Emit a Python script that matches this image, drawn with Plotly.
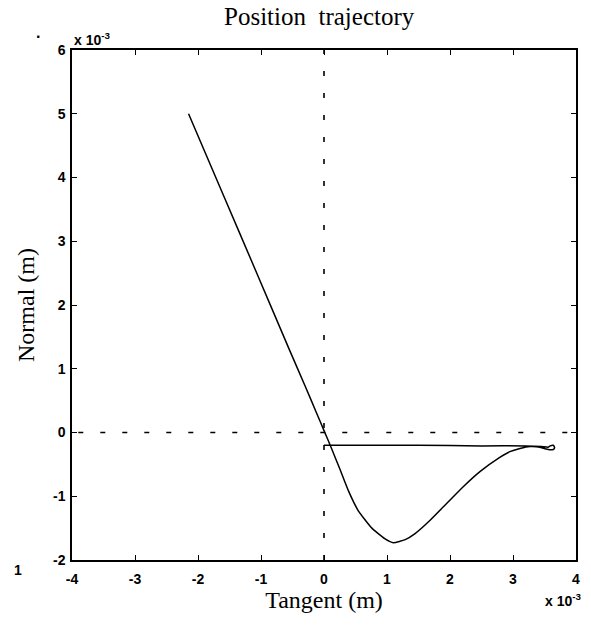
import plotly.graph_objects as go

# Trajectory (units of 1e-3 m)
tangent = [-2.15, -1.60, -1.05, -0.55, -0.30, -0.12, 0.00, 0.12, 0.25, 0.39, 0.54, 0.76, 0.97, 1.10,
           1.29, 1.44, 1.68, 1.95, 2.21, 2.48, 2.79, 2.95, 3.11, 3.27, 3.43, 3.53, 3.58,
           3.63, 3.66, 3.64, 3.59, 3.56, 3.45, 3.20, 2.50, 1.50, 0.80, 0.00]
normal = [5.00, 3.73, 2.46, 1.30, 0.73, 0.31, 0.03, -0.25, -0.57, -0.92, -1.22, -1.50, -1.67, -1.73,
          -1.68, -1.59, -1.38, -1.11, -0.85, -0.61, -0.39, -0.30, -0.25, -0.22, -0.23, -0.26, -0.27,
          -0.27, -0.24, -0.20, -0.21, -0.23, -0.22, -0.21, -0.21, -0.20, -0.20, -0.20]

x_ticks = [-4, -3, -2, -1, 0, 1, 2, 3, 4]
y_ticks = [-2, -1, 0, 1, 2, 3, 4, 5, 6]

fig = go.Figure()
fig.add_trace(go.Scatter(x=tangent, y=normal, mode="lines",
                         line=dict(color="black", width=1.5, shape="spline", smoothing=0.5),
                         showlegend=False, hoverinfo="skip"))

# dashed reference lines
fig.add_shape(type="line", x0=-3.9, x1=4, y0=0, y1=0, xref="x", yref="y",
              line=dict(color="black", width=1.6, dash="5px,17px"))
fig.add_shape(type="line", x0=0, x1=0, y0=-2, y1=6, xref="x", yref="y",
              line=dict(color="black", width=1.6, dash="5px,17px"))

tickfont = dict(family="Liberation Sans, Arial", size=14, color="black")
axis_common = dict(showgrid=False, zeroline=False, showline=True, linecolor="black",
                   linewidth=1.5, mirror="ticks", ticks="inside", ticklen=5,
                   tickcolor="black", tickwidth=1.2, tickfont=tickfont)

title_font = dict(family="Liberation Serif", size=24, color="black")
fig.update_xaxes(range=[-4, 4], tickvals=x_ticks, ticktext=[f"<b>{v}</b>" for v in x_ticks],
                 ticklabelstandoff=5,
                 title=dict(text="Tangent (m)", font=title_font, standoff=2),
                 **axis_common)
fig.update_yaxes(range=[-2, 6], tickvals=y_ticks, ticktext=[f"<b>{v}</b>" for v in y_ticks],
                 ticklabelstandoff=2,
                 title=dict(text="Normal (m)", font=title_font, standoff=12),
                 **axis_common)

fig.update_layout(
    width=591, height=626,
    margin=dict(l=72, r=15, t=50, b=66),
    paper_bgcolor="white", plot_bgcolor="white",
    title=dict(text="Position  trajectory", x=0.54, xanchor="center", y=0.988, yanchor="top",
               font=dict(family="Liberation Serif", size=25, color="black")),
)

ann_font = dict(family="Liberation Sans, Arial", size=14, color="black")
fig.add_annotation(x=0.0, y=1.0, xref="paper", yref="paper", xanchor="left", yanchor="bottom",
                   text="<b>x 10<sup>-3</sup></b>", showarrow=False, font=ann_font, xshift=0, yshift=0)
fig.add_annotation(x=1.0, y=0.0, xref="paper", yref="paper", xanchor="right", yanchor="top",
                   text="<b>x 10<sup>-3</sup></b>", showarrow=False, font=ann_font, xshift=8, yshift=-29)
# scan artifacts visible in the reference
fig.add_annotation(x=-0.075, y=1.055, xref="paper", yref="paper", text="<b>.</b>", showarrow=False,
                   font=dict(family="Liberation Sans", size=16, color="black"))
fig.add_annotation(x=-0.12, y=-0.04, xref="paper", yref="paper", text="<b>1</b>", showarrow=False,
                   font=ann_font)

fig.write_html("out.html")
